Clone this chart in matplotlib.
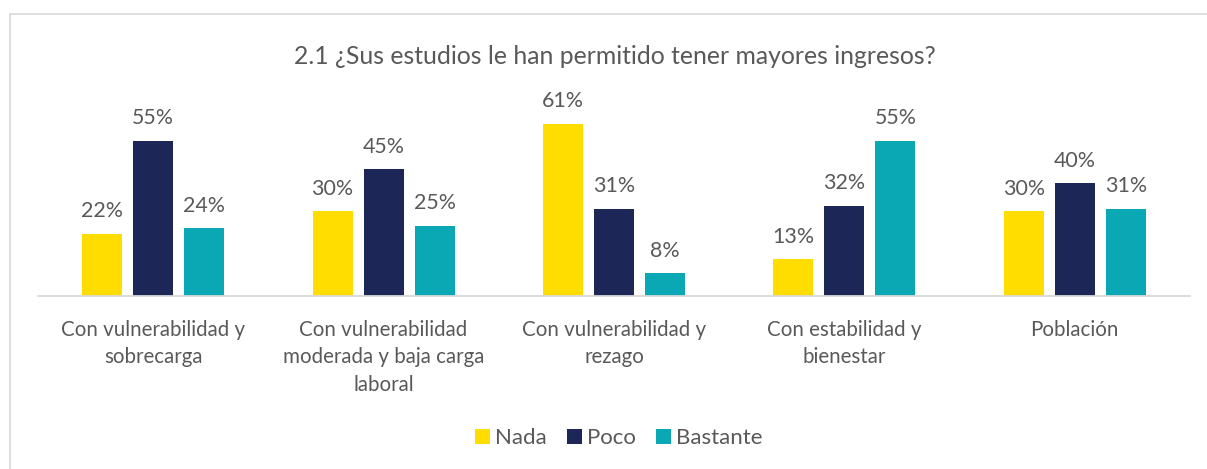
import matplotlib
matplotlib.use("Agg")
import matplotlib.pyplot as plt
import numpy as np
from matplotlib.lines import Line2D
from matplotlib.patches import Patch

categories = ["Con vulnerabilidad y\nsobrecarga",
              "Con vulnerabilidad\nmoderada y baja carga\nlaboral",
              "Con vulnerabilidad y\nrezago",
              "Con estabilidad y\nbienestar",
              "Población"]
series_names = ["Nada", "Poco", "Bastante"]
nada = [22, 30, 61, 13, 30]
poco = [55, 45, 31, 32, 40]
bastante = [24, 25, 8, 55, 31]
title = "2.1 ¿Sus estudios le han permitido tener mayores ingresos?"

colors = ["#FFDD00", "#1C2757", "#0AA8B4"]
txt = "#595959"
plt.rcParams['font.family'] = ['Lato', 'DejaVu Sans']

W, H = 1207, 469
fig = plt.figure(figsize=(W/100, H/100), dpi=100)
fig.patch.set_facecolor("white")

# border
fig.add_artist(Line2D([10/W, 10/W], [0, 1-14/H], color="#D9D9D9", lw=1.2, transform=fig.transFigure))
fig.add_artist(Line2D([10/W, 1], [1-14/H, 1-14/H], color="#D9D9D9", lw=1.2, transform=fig.transFigure))

left, right = 38/W, 1190/W
bottom = 1-296/H
top = 1-(296-70*2.82)/H
ax = fig.add_axes([left, bottom, right-left, top-bottom])

x = np.arange(len(categories))
bw = 40/230.4
off = 51/230.4
for i, (vals, name) in enumerate(zip([nada, poco, bastante], series_names)):
    bars = ax.bar(x + (i-1)*off, vals, bw, color=colors[i], label=name, zorder=2)
    for b, v in zip(bars, vals):
        ax.annotate(f"{v}%", (b.get_x()+b.get_width()/2, v), xytext=(0, 9),
                    textcoords="offset points", ha="center", va="bottom",
                    fontsize=15.4, color=txt)

ax.set_xlim(-0.5, 4.5)
ax.set_ylim(0, 70)
for s in ["top", "right", "left"]:
    ax.spines[s].set_visible(False)
ax.spines["bottom"].set_color("#D9D9D9")
ax.spines["bottom"].set_linewidth(1.3)
ax.set_yticks([])
ax.set_xticks(x)
ax.set_xticklabels(categories, fontsize=14.8, color=txt, linespacing=1.47)
ax.tick_params(axis="x", length=0, pad=17)

fig.text(0.5*(293+937)/W, 1-56/H, title, ha="center", va="center", fontsize=17.8, color=txt)

handles = [Patch(facecolor=c, label=n) for c, n in zip(colors, series_names)]
fig.legend(handles=handles, loc="center", bbox_to_anchor=(619/W, 1-438/H), ncol=3,
           frameon=False, fontsize=16, labelcolor=txt, handlelength=0.65, handleheight=0.65,
           handletextpad=0.25, columnspacing=0.9)

fig.savefig("out.png", dpi=100)
